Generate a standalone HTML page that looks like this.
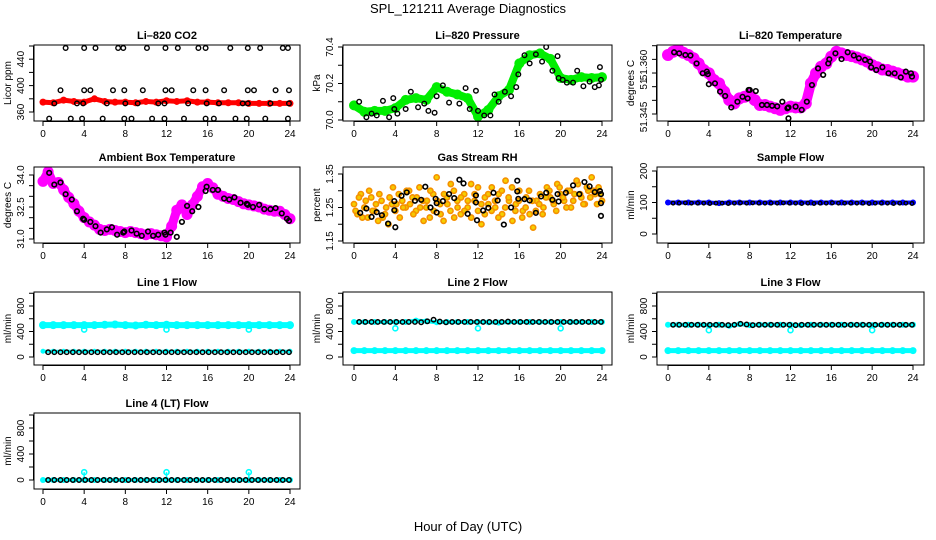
<!DOCTYPE html>
<html><head><meta charset="utf-8"><style>
html,body{margin:0;padding:0;background:#fff;}
svg{display:block;font-family:"Liberation Sans",sans-serif;}
</style></head><body>
<svg id="fig" width="936" height="540" viewBox="0 0 936 540">
<text x="468" y="13" font-size="13" text-anchor="middle">SPL_121211  Average Diagnostics</text>
<text x="468" y="531" font-size="13" text-anchor="middle">Hour of Day (UTC)</text>
</svg>
<script>
// ---- data ----
const xTicks=[0,4,8,12,16,20,24];
const co2RedX=[0,1,2,3,4,5,6,7,8,9,10,11,12,13,14,15,16,17,18,19,20,21,22,23,24];
const co2Red=[375,374,378,376,375,380,376,375,375,374,376,375,377,376,377,375,375,374,374,374,373,373,373,373,373];
const co2BlackX=[0.6,2.7,3.8,5.8,7.9,8.6,10.6,11.8,13.7,15.8,16.6,18.7,19.8,21.6,23.8,2.2,4.0,5.1,7.3,7.8,10.1,11.9,13.1,15.1,15.8,18.2,19.9,21.1,23.3,23.8,1.7,4.0,4.6,6.8,7.9,9.7,11.9,12.5,14.6,15.8,17.6,19.9,20.5,22.6,23.9,1.1,3.3,3.9,6.2,8.0,9.2,11.2,11.8,14.1,15.9,17.1,19.4,19.9,22.1,23.9];
const co2Black=[350,350,350,350,350,350,350,350,350,350,350,350,350,350,350,457,457,457,457,457,457,457,457,457,457,457,457,457,457,457,393,393,393,393,393,393,393,393,393,393,393,393,393,393,393,373,373,373,373,373,373,373,373,373,373,373,373,373,373,373];

const presGreenX=[0,1,2,3,4,5,6,7,8,9,10,11,12,13,14,15,16,17,18,19,20,21,22,23,24];
const presGreen=[70.08,70.045,70.05,70.05,70.065,70.11,70.12,70.11,70.18,70.155,70.14,70.12,70.02,70.055,70.13,70.165,70.31,70.355,70.365,70.335,70.23,70.22,70.235,70.23,70.235];
const presBlackX=[0.5,1.2,1.7,2.2,2.8,3.4,3.8,3.9,4.2,5.0,5.5,6.2,6.8,7.2,7.8,8.0,8.6,9.2,10.2,10.8,11.2,11.8,12.0,12.6,13.2,13.6,14.0,14.6,15.2,15.7,15.9,16.5,17.0,17.6,18.2,18.6,19.2,19.7,19.8,20.2,20.6,21.2,21.6,22.2,22.8,23.3,23.7,23.8,23.9];
const presBlack=[70.1,70.015,70.035,70.025,70.105,70.015,70.12,70.06,70.035,70.06,70.155,70.07,70.09,70.05,70.04,70.13,70.19,70.095,70.09,70.175,70.06,70.16,70.05,70.025,70.025,70.14,70.1,70.155,70.13,70.18,70.25,70.355,70.31,70.36,70.32,70.4,70.27,70.35,70.23,70.22,70.205,70.205,70.27,70.185,70.21,70.18,70.19,70.29,70.22];

const halfHours=[0,0.5,1,1.5,2,2.5,3,3.5,4,4.5,5,5.5,6,6.5,7,7.5,8,8.5,9,9.5,10,10.5,11,11.5,12,12.5,13,13.5,14,14.5,15,15.5,16,16.5,17,17.5,18,18.5,19,19.5,20,20.5,21,21.5,22,22.5,23,23.5,24];
const tempMag=[51.3666,51.3678,51.3687,51.3674,51.3666,51.3654,51.3635,51.3611,51.3599,51.3574,51.3562,51.3532,51.3501,51.3489,51.3507,51.3513,51.3520,51.3501,51.3483,51.3483,51.3477,51.3471,51.3465,51.3471,51.3477,51.3474,51.3474,51.3489,51.3562,51.3599,51.3623,51.3635,51.3660,51.3678,51.3672,51.3666,51.3662,51.3657,51.3650,51.3642,51.3629,51.3621,51.3613,51.3611,51.3605,51.3599,51.3593,51.3587,51.3587];
const tempBlackX=[0.6,1.1,1.7,2.2,2.8,3.4,3.8,3.9,4.0,4.6,5.1,5.6,6.2,6.8,7.3,7.8,7.9,8.0,8.6,9.2,9.7,10.2,10.7,11.2,11.7,11.8,12.5,13.1,13.6,14.1,14.7,15.2,15.7,15.8,16.4,17.0,17.6,18.2,18.7,19.3,19.8,19.9,20.4,21.0,21.6,22.2,22.8,23.3,23.8,23.9,11.8];
const tempBlack=[51.3676,51.3672,51.3666,51.3664,51.3635,51.3599,51.3605,51.3596,51.3559,51.3562,51.3532,51.3516,51.3474,51.3495,51.3513,51.3507,51.3538,51.3538,51.3534,51.3483,51.3483,51.3480,51.3478,51.3495,51.3471,51.3474,51.3477,51.3465,51.3495,51.3556,51.3617,51.3593,51.3635,51.3650,51.3672,51.3651,51.3676,51.3664,51.3654,51.3648,51.3642,51.3621,51.3611,51.3621,51.3599,51.3599,51.3584,51.3605,51.3599,51.3587,51.3434];

const ambMag=[33.7,34.15,33.6,33.65,33.3,32.95,32.65,32.3,32.0,31.8,31.65,31.45,31.4,31.45,31.4,31.35,31.3,31.35,31.3,31.25,31.2,31.25,31.2,31.15,31.1,31.6,32.35,32.6,32.15,32.6,33.0,33.45,33.6,33.4,33.1,33.0,32.9,32.85,32.75,32.65,32.6,32.55,32.5,32.4,32.35,32.3,32.3,32.15,31.95];
const ambBlackX=[0.6,1.1,1.7,2.2,2.8,3.3,3.9,4.0,4.6,5.1,5.6,6.2,6.7,7.2,7.8,7.9,8.6,9.1,9.6,10.2,10.7,11.2,11.8,11.9,12.4,13.0,13.5,14.0,14.5,15.1,15.8,15.9,16.5,17.0,17.6,18.1,18.6,19.2,19.8,19.9,20.4,21.0,21.5,22.1,22.6,23.2,23.7,23.9];
const ambBlack=[34.1,33.55,33.65,33.1,32.85,32.3,31.95,31.9,31.8,31.6,31.3,31.45,31.55,31.2,31.3,31.35,31.4,31.25,31.15,31.35,31.15,31.2,31.3,31.2,31.3,31.1,31.8,32.55,32.3,32.5,33.25,33.45,33.3,33.3,32.9,32.85,32.95,32.7,32.65,32.6,32.5,32.6,32.4,32.4,32.45,32.2,31.95,31.85];

const rhOrangeA=[1.26,1.23,1.29,1.25,1.22,1.28,1.24,1.21,1.27,1.23,1.20,1.26,1.24,1.29,1.27,1.25,1.30,1.28,1.24,1.31,1.27,1.25,1.22,1.29,1.34,1.26,1.21,1.28,1.24,1.30,1.27,1.23,1.29,1.25,1.32,1.27,1.24,1.20,1.28,1.26,1.31,1.25,1.29,1.23,1.33,1.27,1.21,1.26,1.30,1.24,1.28,1.23,1.19,1.27,1.29,1.25,1.31,1.28,1.26,1.32,1.29,1.27,1.30,1.25,1.29,1.32,1.28,1.26,1.30,1.34,1.29,1.31,1.27];
const rhOrangeB=[1.24,1.28,1.22,1.27,1.30,1.24,1.26,1.29,1.22,1.25,1.28,1.31,1.26,1.22,1.25,1.30,1.26,1.23,1.28,1.25,1.21,1.27,1.30,1.24,1.27,1.23,1.29,1.26,1.32,1.22,1.25,1.28,1.24,1.27,1.22,1.29,1.31,1.26,1.23,1.29,1.24,1.27,1.22,1.30,1.25,1.28,1.31,1.24,1.27,1.22,1.25,1.30,1.27,1.24,1.26,1.23,1.28,1.30,1.27,1.24,1.31,1.28,1.25,1.30,1.27,1.33,1.29,1.26,1.31,1.28,1.30,1.26,1.29];
const rhBlackX=[0.6,1.2,1.7,2.2,2.7,3.3,3.9,3.9,4.0,4.6,5.1,5.9,6.5,6.9,7.4,7.9,8.0,8.0,8.6,9.2,9.7,10.2,10.6,11.0,11.8,11.8,11.9,12.5,13.0,13.5,13.9,14.5,15.2,15.8,15.8,15.9,16.5,17.0,17.6,18.1,18.6,19.2,19.7,19.8,20.5,21.2,21.8,22.3,22.8,23.3,23.8,23.9,23.9,23.9];
const rhBlack=[1.234,1.247,1.222,1.236,1.227,1.202,1.242,1.269,1.191,1.285,1.295,1.27,1.273,1.312,1.25,1.276,1.263,1.235,1.269,1.29,1.278,1.333,1.322,1.231,1.286,1.265,1.212,1.241,1.249,1.294,1.271,1.199,1.25,1.33,1.298,1.276,1.275,1.271,1.234,1.283,1.294,1.273,1.29,1.268,1.294,1.316,1.29,1.326,1.313,1.296,1.299,1.29,1.263,1.225];

const hours=[0,1,2,3,4,5,6,7,8,9,10,11,12,13,14,15,16,17,18,19,20,21,22,23,24];
const sampleBlue=[100,100,100,100,100,98,100,100,100,100,100,100,100,100,100,100,100,100,100,100,100,100,100,100,100];
const sampleBlack=[98,98,99,98,98,98,97,98,98,97,98,99,98,99,98,98,98,98,99,98,98,97,98,97,98,98,99,98,98,98,98,98,97,98,98,98,97,98,98,97];
const line1CyanHigh=[500,500,500,500,500,500,505,510,500,495,505,500,505,500,500,500,500,500,500,500,500,500,500,500,500];
const line1CyanLow=[90,90,90,90,90,90,90,90,90,90,90,90,90,90,90,90,90,90,90,90,90,90,90,90,90];
const line1Black=[75,75,75,75,75,75,75,75,75,75,75,75,75,75,75,75,75,75,75,75,75,75,75,75,75,75,75,75,75,75,75,75,75,75,75,75,75,75,75,75];
const line2CyanHigh=[550,550,550,550,550,550,570,560,545,550,550,550,550,545,540,550,550,550,550,550,550,550,550,550,550];
const line2CyanLow=[100,100,100,100,100,100,100,100,100,100,100,100,100,100,100,100,100,100,100,100,100,100,100,100,100];
const line2Black=[550,550,550,550,550,550,550,550,550,550,545,560,585,555,545,550,550,550,550,550,550,550,550,550,555,550,550,550,550,550,550,550,550,550,550,550,550,550,550,550];
const line3CyanHigh=[505,505,505,505,500,505,490,515,500,505,505,505,505,500,505,505,505,505,505,505,500,505,505,505,505];
const line3CyanLow=[100,100,100,100,100,100,100,100,100,100,100,100,100,100,100,100,100,100,100,100,100,100,100,100,100];
const line3Black=[505,505,505,505,505,505,505,505,505,500,505,520,510,500,505,505,505,505,505,505,500,505,505,505,505,505,505,505,505,505,505,505,505,505,505,505,505,505,505,505];
const line4Cyan=[0,0,0,0,0,0,0,0,0,0,0,0,0,0,0,0,0,0,0,0,0,0,0,0,0];
const line4Black=[0,0,0,0,0,0,0,0,0,0,0,0,0,0,0,0,0,0,0,0,0,0,0,0,0,0,0,0,0,0,0,0,0,0,0,0,0,0,0,0];
const flowDipX=[4,12,20];
const line1Dip=[430,430,430];
const line2Dip=[450,450,450];
const line3Dip=[420,420,420];
const line4Spike=[120,120,120];

// ---- layout ----
const NS='http://www.w3.org/2000/svg';
const svg=document.getElementById('fig');
const cols=[{l:34,r:300,x0:43,x24:290},{l:343,r:612,x0:354,x24:602},{l:657,r:924,x0:668,x24:913}];
const rows=[{t:45,b:121},{t:167,b:243},{t:292,b:365},{t:413,b:489}];
function mk(tag,attrs,parent){const e=document.createElementNS(NS,tag);for(const k in attrs)e.setAttribute(k,attrs[k]);(parent||svg).appendChild(e);return e;}
function blackTimes(n){const a=[];for(let i=0;i<n;i++)a.push(0.5+i*(23.4/(n-1)));return a;}

function panel(p){
  const c=cols[p.c],r=rows[p.r];
  const g=mk('g',{});
  
  
  const sx=h=>c.x0+(c.x24-c.x0)*h/24;
  const sy=v=>p.m[1]+(v-p.m[0])*(p.m[3]-p.m[1])/(p.m[2]-p.m[0]);
  const clip='clip-'+p.name;
  const cp=mk('clipPath',{id:clip},g);mk('rect',{x:c.l,y:r.t,width:c.r-c.l,height:r.b-r.t},cp);
  const plot=mk('g',{'clip-path':'url(#'+clip+')'},g);
  
  
  p.draw(plot,sx,sy);
  const box=mk('rect',{x:c.l,y:r.t,width:c.r-c.l,height:r.b-r.t,fill:'none',stroke:'#000','stroke-width':1},g);
  
  
  const t=mk('text',{x:(c.l+c.r)/2,y:r.t-6,'font-size':11,'font-weight':'bold','text-anchor':'middle'},g);
  t.textContent=p.title;
  
  
  const xa=mk('g',{stroke:'#000','stroke-width':1},g);
  
  
  mk('line',{x1:sx(0),x2:sx(24),y1:r.b+0.5,y2:r.b+0.5},xa);
  xTicks.forEach(v=>{mk('line',{x1:sx(v),x2:sx(v),y1:r.b,y2:r.b+5},xa);
    const tx=mk('text',{x:sx(v),y:r.b+16,'font-size':10,'text-anchor':'middle',stroke:'none'},xa);tx.textContent=v;
    
    });
  const ya=mk('g',{stroke:'#000','stroke-width':1},g);
  
  
  mk('line',{x1:c.l-0.5,x2:c.l-0.5,y1:sy(p.ticks[0]),y2:sy(p.ticks[p.ticks.length-1])},ya);
  p.ticks.forEach(v=>mk('line',{x1:c.l-5,x2:c.l,y1:sy(v),y2:sy(v)},ya));
  p.labels.forEach(L=>{const yy=L.py!==undefined?L.py:sy(L.v);
    const tx=mk('text',{x:c.l-10,y:yy,'font-size':10,'text-anchor':'middle',stroke:'none',transform:'rotate(-90 '+(c.l-10)+' '+yy+')'},ya);tx.textContent=L.t;
    
    });
  const my=(r.t+r.b)/2;
  const yl=mk('text',{x:c.l-23,y:my,'font-size':10,'text-anchor':'middle',transform:'rotate(-90 '+(c.l-23)+' '+my+')'},g);
  yl.textContent=p.ylab;
  
  
}
function band(g,xs,ys,sx,sy,color,w,name){
  const pl=mk('polyline',{points:xs.map((x,i)=>sx(x)+','+sy(ys[i])).join(' '),fill:'none',stroke:color,'stroke-width':w,'stroke-linejoin':'round','stroke-linecap':'round'},g);
  
  
  xs.forEach((x,i)=>{const ci=mk('circle',{cx:sx(x),cy:sy(ys[i]),r:w/2+1,fill:color},g);
    
    });
}
function pts(g,xs,ys,sx,sy,color,rad,sw,name,fill){
  xs.forEach((x,i)=>{const ci=mk('circle',{cx:sx(x),cy:sy(ys[i]),r:rad,fill:fill||'none',stroke:color,'stroke-width':sw},g);
    
    });
}
const flowTicks=[0,200,400,600,800,1000];
const flowLabels=[{v:0,t:'0'},{v:400,t:'400'},{v:800,t:'800'}];

panel({name:'co2-panel',c:0,r:0,title:'Li\u2013820 CO2',ylab:'Licor ppm',m:[360,112,460,46],ticks:[360,380,400,420,440,460],labels:[{v:360,t:'360'},{v:400,t:'400'},{v:440,t:'440'}],
 draw:(g,sx,sy)=>{band(g,co2RedX,co2Red,sx,sy,'#ff0000',5,'co2-red-series');pts(g,co2BlackX,co2Black,sx,sy,'#000',2.3,1.4,'co2-black-point');}});
panel({name:'pressure-panel',c:1,r:0,title:'Li\u2013820 Pressure',ylab:'kPa',m:[70.0,120,70.4,47],ticks:[70.0,70.1,70.2,70.3,70.4],labels:[{v:70.0,t:'70.0'},{v:70.2,t:'70.2'},{v:70.4,t:'70.4'}],
 draw:(g,sx,sy)=>{band(g,presGreenX,presGreen,sx,sy,'#00ee00',8,'pressure-green-series');pts(g,presBlackX,presBlack,sx,sy,'#000',2.3,1.4,'pressure-black-point');}});
panel({name:'li820-temp-panel',c:2,r:0,title:'Li\u2013820 Temperature',ylab:'degrees C',m:[51.345,114,51.37,45.7],ticks:[51.345,51.35,51.355,51.36,51.365,51.37],labels:[{py:117,t:'51.345'},{py:84,t:'51'},{py:65,t:'51.360'}],
 draw:(g,sx,sy)=>{band(g,halfHours,tempMag,sx,sy,'#ff00ff',10,'li820-temp-magenta-series');pts(g,tempBlackX,tempBlack,sx,sy,'#000',2.3,1.6,'li820-temp-black-point');}});
panel({name:'ambient-temp-panel',c:0,r:1,title:'Ambient Box Temperature',ylab:'degrees C',m:[31.0,239,34.0,175],ticks:[31.0,31.5,32.0,32.5,33.0,33.5,34.0],labels:[{v:31.0,t:'31.0'},{v:32.5,t:'32.5'},{v:34.0,t:'34.0'}],
 draw:(g,sx,sy)=>{band(g,halfHours,ambMag,sx,sy,'#ff00ff',9,'ambient-magenta-series');pts(g,ambBlackX,ambBlack,sx,sy,'#000',2.3,1.6,'ambient-black-point');}});
panel({name:'rh-panel',c:1,r:1,title:'Gas Stream RH',ylab:'percent',m:[1.15,241,1.35,174],ticks:[1.15,1.2,1.25,1.3,1.35],labels:[{v:1.15,t:'1.15'},{v:1.25,t:'1.25'},{v:1.35,t:'1.35'}],
 draw:(g,sx,sy)=>{const n=rhOrangeA.length;const ta=rhOrangeA.map((v,i)=>i*24/(n-1));const tb=rhOrangeB.map((v,i)=>0.15+i*23.7/(n-1));
  pts(g,ta,rhOrangeA,sx,sy,'#f59000',2.6,1.6,'rh-orange-point','#f5d000');pts(g,tb,rhOrangeB,sx,sy,'#f59000',2.6,1.6,'rh-orange-point','#f5c800');
  pts(g,rhBlackX,rhBlack,sx,sy,'#000',2.3,1.6,'rh-black-point');}});
panel({name:'sample-flow-panel',c:2,r:1,title:'Sample Flow',ylab:'ml/min',m:[0,234,200,171],ticks:[0,50,100,150,200],labels:[{v:0,t:'0'},{v:100,t:'100'},{v:200,t:'200'}],
 draw:(g,sx,sy)=>{band(g,hours,sampleBlue,sx,sy,'#0000ff',4,'sample-flow-blue-series');pts(g,blackTimes(sampleBlack.length),sampleBlack,sx,sy,'#000',1.8,1.4,'sample-flow-black-point');}});
panel({name:'line1-flow-panel',c:0,r:2,title:'Line 1 Flow',ylab:'ml/min',m:[0,357,800,306],ticks:flowTicks,labels:flowLabels,
 draw:(g,sx,sy)=>{band(g,hours,line1CyanHigh,sx,sy,'#00ffff',6,'line1-cyan-high');band(g,hours,line1CyanLow,sx,sy,'#00ffff',3,'line1-cyan-low');
  pts(g,flowDipX,line1Dip,sx,sy,'#00ffff',2.5,1.6,'line1-cyan-dip');pts(g,blackTimes(line1Black.length),line1Black,sx,sy,'#000',2.2,1.5,'line1-black-point');}});
panel({name:'line2-flow-panel',c:1,r:2,title:'Line 2 Flow',ylab:'ml/min',m:[0,357,800,306],ticks:flowTicks,labels:flowLabels,
 draw:(g,sx,sy)=>{band(g,hours,line2CyanHigh,sx,sy,'#00ffff',4,'line2-cyan-high');band(g,hours,line2CyanLow,sx,sy,'#00ffff',5,'line2-cyan-low');
  pts(g,flowDipX,line2Dip,sx,sy,'#00ffff',2.5,1.6,'line2-cyan-dip');pts(g,blackTimes(line2Black.length),line2Black,sx,sy,'#000',2.2,1.5,'line2-black-point');}});
panel({name:'line3-flow-panel',c:2,r:2,title:'Line 3 Flow',ylab:'ml/min',m:[0,357,800,306],ticks:flowTicks,labels:flowLabels,
 draw:(g,sx,sy)=>{band(g,hours,line3CyanHigh,sx,sy,'#00ffff',4,'line3-cyan-high');band(g,hours,line3CyanLow,sx,sy,'#00ffff',5,'line3-cyan-low');
  pts(g,flowDipX,line3Dip,sx,sy,'#00ffff',2.5,1.6,'line3-cyan-dip');pts(g,blackTimes(line3Black.length),line3Black,sx,sy,'#000',2.2,1.5,'line3-black-point');}});
panel({name:'line4-flow-panel',c:0,r:3,title:'Line 4 (LT) Flow',ylab:'ml/min',m:[0,480,800,428],ticks:flowTicks,labels:flowLabels,
 draw:(g,sx,sy)=>{band(g,hours,line4Cyan,sx,sy,'#00ffff',4,'line4-cyan-series');
  flowDipX.forEach((x,i)=>{const l=mk('line',{x1:sx(x),x2:sx(x),y1:sy(0),y2:sy(line4Spike[i]),stroke:'#00ffff','stroke-width':1.5},g);
   
   });
  pts(g,flowDipX,line4Spike,sx,sy,'#00ffff',2.5,1.6,'line4-cyan-spike');pts(g,blackTimes(line4Black.length),line4Black,sx,sy,'#000',2.2,1.5,'line4-black-point');}});
</script>
</body></html>
